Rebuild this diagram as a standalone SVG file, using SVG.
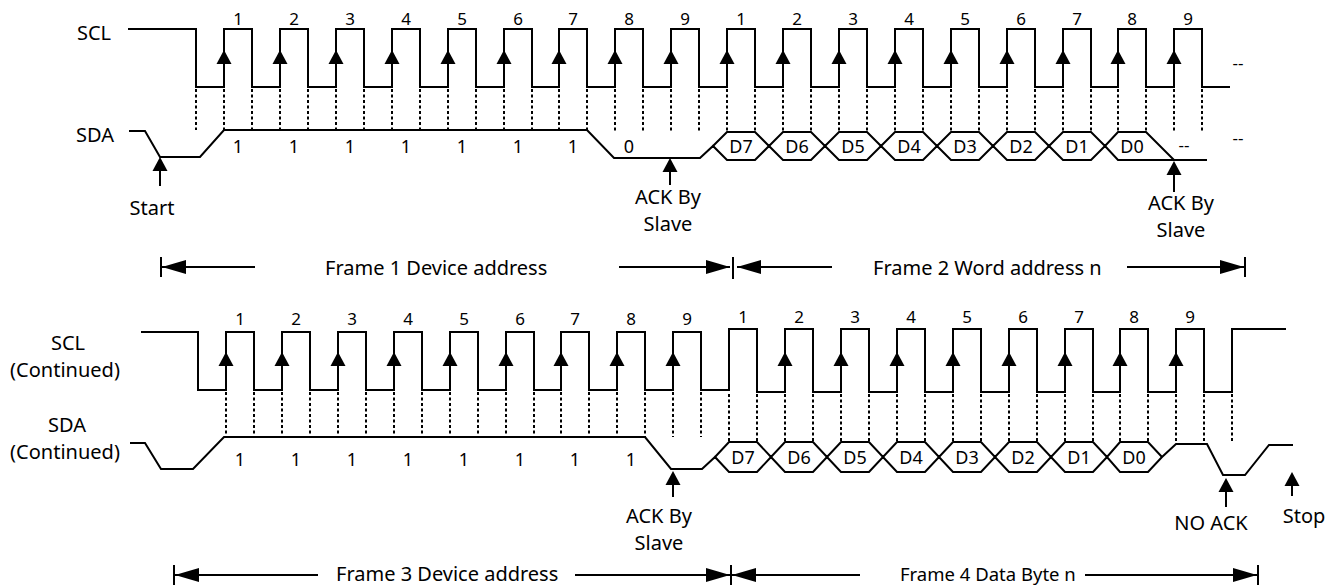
<svg xmlns="http://www.w3.org/2000/svg" xmlns:xlink="http://www.w3.org/1999/xlink" width="1343" height="588" viewBox="0 0 1343 588">
<style>
  .sig{fill:none;stroke:#000;stroke-width:2;stroke-linejoin:miter}
  .dot{fill:none;stroke:#000;stroke-width:2;stroke-dasharray:3 2.5}
  .ln{fill:none;stroke:#000;stroke-width:2}
  text{font-family:"Noto Sans","DejaVu Sans",sans-serif;fill:#000}
  .lb{font-size:20px}
  .num{font-size:17px;text-anchor:middle}
  .bit{font-size:18px;text-anchor:middle}
  .mid{text-anchor:middle}
</style>
<defs>
  <path id="ah" d="M0,0 L-7.5,14 L7.5,14 Z" fill="#000"/>
  <marker id="fa" markerUnits="userSpaceOnUse" markerWidth="24" markerHeight="14" refX="24" refY="7" orient="auto">
    <path d="M0,0 L24,7 L0,14 Z" fill="#000"/>
  </marker>
</defs>
<rect width="1343" height="588" fill="#fff"/>

<g id="labels-left">
  <text class="lb" x="77" y="40">SCL</text>
  <text class="lb" x="76" y="142">SDA</text>
  <text class="lb mid" x="68" y="350">SCL</text>
  <text class="lb mid" x="65" y="377">(Continued)</text>
  <text class="lb mid" x="67" y="432">SDA</text>
  <text class="lb mid" x="65" y="459">(Continued)</text>
</g>

<g id="scl-top">
  <path class="sig" d="M128,29 H196 V87 H224 V29 H252 V87 H280 V29 H308 V87 H336 V29 H364 V87 H392 V29 H420 V87 H448 V29 H476 V87 H504 V29 H532 V87 H559 V29 H587 V87 H615 V29 H643 V87 H671 V29 H699 V87 H727 V29 H755 V87 H783 V29 H811 V87 H839 V29 H867 V87 H895 V29 H923 V87 H951 V29 H979 V87 H1007 V29 H1035 V87 H1063 V29 H1091 V87 H1118 V29 H1146 V87 H1174 V29 H1202 V87 H1230"/>
  <g class="num">
    <text x="238" y="25">1</text><text x="294" y="25">2</text><text x="350" y="25">3</text><text x="406" y="25">4</text><text x="462" y="25">5</text><text x="518" y="25">6</text><text x="573" y="25">7</text><text x="629" y="25">8</text><text x="685" y="25">9</text>
    <text x="741" y="25">1</text><text x="797" y="25">2</text><text x="853" y="25">3</text><text x="909" y="25">4</text><text x="965" y="25">5</text><text x="1021" y="25">6</text><text x="1077" y="25">7</text><text x="1132" y="25">8</text><text x="1188" y="25">9</text>
  </g>
  <text x="1238" y="69" class="num">--</text>
</g>

<g id="sda-top">
  <path class="sig" d="M129,131 H145 L160,157 H200 L224,130 H587 L614,158 H700 L713,146 L727,160 H755 L769,146 L783,160 H811 L825,146 L839,160 H867 L881,146 L895,160 H923 L937,146 L951,160 H979 L993,146 L1007,160 H1035 L1049,146 L1063,160 H1091 L1105,146 L1118,160 H1207"/>
  <path class="sig" d="M713,146 L727,132 H755 L769,146 L783,132 H811 L825,146 L839,132 H867 L881,146 L895,132 H923 L937,146 L951,132 H979 L993,146 L1007,132 H1035 L1049,146 L1063,132 H1091 L1105,146 L1118,132 H1146 L1174,160"/>
  <g class="bit">
    <text x="238" y="153">1</text><text x="294" y="153">1</text><text x="350" y="153">1</text><text x="406" y="153">1</text><text x="462" y="153">1</text><text x="518" y="153">1</text><text x="573" y="153">1</text><text x="629" y="153">0</text>
    <text x="741" y="153">D7</text><text x="797" y="153">D6</text><text x="853" y="153">D5</text><text x="909" y="153">D4</text><text x="965" y="153">D3</text><text x="1021" y="153">D2</text><text x="1077" y="153">D1</text><text x="1132" y="153">D0</text>
  </g>
  <text x="1184" y="151" class="num">--</text>
  <text x="1238" y="144" class="num">--</text>
</g>

<g id="scl-bottom">
  <path class="sig" d="M141,332 H198 V390 H226 V332 H254 V390 H282 V332 H310 V390 H338 V332 H366 V390 H394 V332 H422 V390 H450 V332 H478 V390 H506 V332 H534 V390 H561 V332 H589 V390 H617 V332 H645 V390 H673 V332 H701 V390 H729 V329 H757 V392 H785 V329 H813 V392 H841 V329 H869 V392 H897 V329 H925 V392 H953 V329 H981 V392 H1009 V329 H1037 V392 H1065 V329 H1093 V392 H1120 V329 H1148 V392 H1176 V329 H1204 V392 H1232 V329 H1286"/>
  <g class="num">
    <text x="240" y="325">1</text><text x="296" y="325">2</text><text x="352" y="325">3</text><text x="408" y="325">4</text><text x="464" y="325">5</text><text x="520" y="325">6</text><text x="575" y="325">7</text><text x="631" y="325">8</text><text x="687" y="325">9</text>
    <text x="743" y="323">1</text><text x="799" y="323">2</text><text x="855" y="323">3</text><text x="911" y="323">4</text><text x="967" y="323">5</text><text x="1023" y="323">6</text><text x="1079" y="323">7</text><text x="1134" y="323">8</text><text x="1190" y="323">9</text>
  </g>
</g>

<g id="sda-bottom">
  <path class="sig" d="M130,443 H145 L161,469 H193 L224,437 H645 L671,469 H702 L715,457 L729,472 H757 L771,457 L785,472 H813 L827,457 L841,472 H869 L883,457 L897,472 H925 L939,457 L953,472 H981 L995,457 L1009,472 H1037 L1051,457 L1065,472 H1093 L1107,457 L1120,472 H1148 L1162,457 L1176,444 H1207 L1223,475 H1245 L1269,445 H1293"/>
  <path class="sig" d="M715,457 L729,442 H757 L771,457 L785,442 H813 L827,457 L841,442 H869 L883,457 L897,442 H925 L939,457 L953,442 H981 L995,457 L1009,442 H1037 L1051,457 L1065,442 H1093 L1107,457 L1120,442 H1148 L1162,457"/>
  <g class="bit">
    <text x="240" y="466">1</text><text x="296" y="466">1</text><text x="352" y="466">1</text><text x="408" y="466">1</text><text x="464" y="466">1</text><text x="520" y="466">1</text><text x="575" y="466">1</text><text x="631" y="466">1</text>
    <text x="743" y="464">D7</text><text x="799" y="464">D6</text><text x="855" y="464">D5</text><text x="911" y="464">D4</text><text x="967" y="464">D3</text><text x="1023" y="464">D2</text><text x="1079" y="464">D1</text><text x="1134" y="464">D0</text>
  </g>
</g>

<g id="annotations">
  <text class="lb mid" x="152" y="215">Start</text>
  <text class="lb mid" x="668" y="204">ACK By</text>
  <text class="lb mid" x="668" y="231">Slave</text>
  <text class="lb mid" x="1181" y="210">ACK By</text>
  <text class="lb mid" x="1181" y="237">Slave</text>
  <text class="lb mid" x="659" y="523">ACK By</text>
  <text class="lb mid" x="659" y="550">Slave</text>
  <text class="lb mid" x="1211" y="530">NO ACK</text>
  <text class="lb mid" x="1304" y="523">Stop</text>
  <text class="lb" x="325" y="275">Frame 1 Device address</text>
  <text class="lb" x="873" y="275">Frame 2 Word address n</text>
  <text class="lb" x="336" y="581">Frame 3 Device address</text>
  <text x="900" y="581" style="font-size:18.5px">Frame 4 Data Byte n</text>
</g>

<g id="connectors">
  <path class="dot" d="M196,89 V130 M224,89 V130 M252,89 V130 M280,89 V130 M308,89 V130 M336,89 V130 M364,89 V130 M392,89 V130 M420,89 V130 M448,89 V130 M476,89 V130 M504,89 V130 M532,89 V130 M559,89 V130 M587,89 V130 M615,89 V132 M643,89 V132 M671,89 V132 M699,89 V132 M727,89 V132 M755,89 V132 M783,89 V132 M811,89 V132 M839,89 V132 M867,89 V132 M895,89 V132 M923,89 V132 M951,89 V132 M979,89 V132 M1007,89 V132 M1035,89 V132 M1063,89 V132 M1091,89 V132 M1118,89 V132 M1146,89 V132 M1174,89 V132 M1202,89 V132"/>
  <path class="dot" d="M226,392 V437 M254,392 V437 M282,392 V437 M310,392 V437 M338,392 V437 M366,392 V437 M394,392 V437 M422,392 V437 M450,392 V437 M478,392 V437 M506,392 V437 M534,392 V437 M561,392 V437 M589,392 V437 M617,392 V437 M645,392 V437 M673,392 V437 M701,392 V437 M729,394 V442 M757,394 V442 M785,394 V442 M813,394 V442 M841,394 V442 M869,394 V442 M897,394 V442 M925,394 V442 M953,394 V442 M981,394 V442 M1009,394 V442 M1037,394 V442 M1065,394 V442 M1093,394 V442 M1120,394 V442 M1148,394 V442 M1176,394 V442 M1204,394 V442 M1232,394 V442"/>
  <g id="clock-arrows-top">
    <use xlink:href="#ah" x="224" y="50"/><use xlink:href="#ah" x="280" y="50"/><use xlink:href="#ah" x="336" y="50"/><use xlink:href="#ah" x="392" y="50"/><use xlink:href="#ah" x="448" y="50"/><use xlink:href="#ah" x="504" y="50"/><use xlink:href="#ah" x="559" y="50"/><use xlink:href="#ah" x="615" y="50"/><use xlink:href="#ah" x="671" y="50"/>
    <use xlink:href="#ah" x="727" y="50"/><use xlink:href="#ah" x="783" y="50"/><use xlink:href="#ah" x="839" y="50"/><use xlink:href="#ah" x="895" y="50"/><use xlink:href="#ah" x="951" y="50"/><use xlink:href="#ah" x="1007" y="50"/><use xlink:href="#ah" x="1063" y="50"/><use xlink:href="#ah" x="1118" y="50"/><use xlink:href="#ah" x="1174" y="50"/>
  </g>
  <g id="clock-arrows-bottom">
    <use xlink:href="#ah" x="226" y="352"/><use xlink:href="#ah" x="282" y="352"/><use xlink:href="#ah" x="338" y="352"/><use xlink:href="#ah" x="394" y="352"/><use xlink:href="#ah" x="450" y="352"/><use xlink:href="#ah" x="506" y="352"/><use xlink:href="#ah" x="561" y="352"/><use xlink:href="#ah" x="617" y="352"/><use xlink:href="#ah" x="673" y="352"/>
    <use xlink:href="#ah" x="785" y="352"/><use xlink:href="#ah" x="841" y="352"/><use xlink:href="#ah" x="897" y="352"/><use xlink:href="#ah" x="953" y="352"/><use xlink:href="#ah" x="1009" y="352"/><use xlink:href="#ah" x="1065" y="352"/><use xlink:href="#ah" x="1120" y="352"/><use xlink:href="#ah" x="1176" y="352"/>
  </g>
  <g id="event-arrows">
    <use xlink:href="#ah" x="160" y="157"/><path class="ln" d="M160,170 V186"/>
    <use xlink:href="#ah" x="670" y="158"/><path class="ln" d="M670,170 V185"/>
    <use xlink:href="#ah" x="1174" y="161"/><path class="ln" d="M1174,173 V192"/>
    <use xlink:href="#ah" x="673" y="471"/><path class="ln" d="M673,483 V497"/>
    <use xlink:href="#ah" x="1226" y="478"/><path class="ln" d="M1226,490 V507"/>
    <use xlink:href="#ah" x="1292" y="472"/><path class="ln" d="M1292,484 V496"/>
  </g>
  <g id="frame-arrows">
    <path class="ln" d="M161,257 V277 M733,257 V279 M1245,257 V277 M174,565 V585 M731,565 V585 M1258,565 V585"/>
    <path class="ln" d="M255,267 H162" marker-end="url(#fa)"/>
    <path class="ln" d="M619,267 H730" marker-end="url(#fa)"/>
    <path class="ln" d="M832,267 H737" marker-end="url(#fa)"/>
    <path class="ln" d="M1127,267 H1244" marker-end="url(#fa)"/>
    <path class="ln" d="M318,575 H175" marker-end="url(#fa)"/>
    <path class="ln" d="M575,575 H730" marker-end="url(#fa)"/>
    <path class="ln" d="M860,575 H732" marker-end="url(#fa)"/>
    <path class="ln" d="M1085,575 H1257" marker-end="url(#fa)"/>
  </g>
</g>
</svg>
